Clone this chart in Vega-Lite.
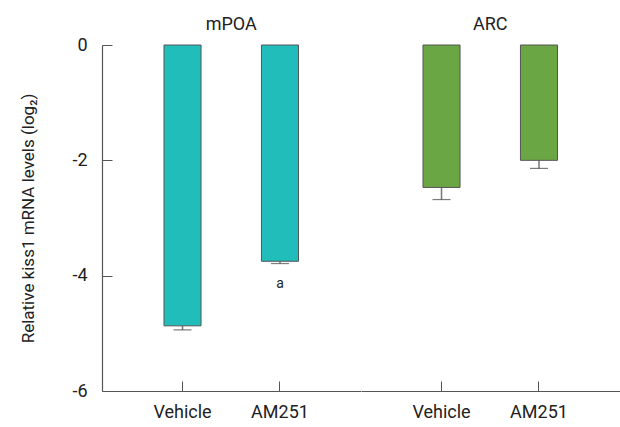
{
  "$schema": "https://vega.github.io/schema/vega-lite/v6.json",
  "data": {"values": [
    {"region": "mPOA", "treatment": "Vehicle", "mean": -4.87, "low": -4.94, "sig": ""},
    {"region": "mPOA", "treatment": "AM251", "mean": -3.75, "low": -3.79, "sig": "a"},
    {"region": "ARC", "treatment": "Vehicle", "mean": -2.47, "low": -2.68, "sig": ""},
    {"region": "ARC", "treatment": "AM251", "mean": -2.0, "low": -2.14, "sig": ""}
  ]},
  "padding": {"left": 19, "top": 16, "right": 0, "bottom": 0},
  "spacing": 0,
  "facet": {
    "column": {
      "field": "region", "type": "nominal", "sort": ["mPOA", "ARC"],
      "header": {"title": null, "labelFontSize": 18, "labelFont": "Roboto", "labelColor": "#222", "labelPadding": 10, "labelOrient": "top"}
    }
  },
  "spec": {
    "width": 258.5,
    "height": 346,
    "encoding": {
      "x": {"field": "treatment", "type": "nominal", "sort": ["Vehicle", "AM251"],
        "scale": {"type": "band", "paddingInner": 0.62, "paddingOuter": 0.636},
        "axis": {"title": null, "labelAngle": 0, "tickSize": -10, "labelPadding": 22, "domainColor": "#555", "tickColor": "#555", "labelFontSize": 18, "labelFont": "Roboto", "labelColor": "#222"}}
    },
    "layer": [
      {
        "mark": {"type": "rule", "color": "#777", "strokeWidth": 1.5},
        "encoding": {
          "y": {"field": "mean", "type": "quantitative"},
          "y2": {"field": "low"}
        }
      },
      {
        "mark": {"type": "tick", "color": "#444", "thickness": 1.2, "size": 18},
        "encoding": {
          "y": {"field": "low", "type": "quantitative"}
        }
      },
      {
        "mark": {"type": "bar", "stroke": "#555", "strokeWidth": 1},
        "encoding": {
          "y": {"field": "mean", "type": "quantitative",
            "scale": {"domain": [-6, 0], "nice": false},
            "axis": {"values": [0, -2, -4, -6], "tickSize": -10, "labelPadding": 25, "grid": false,
              "labelExpr": "datum.value == 0 ? '0' : '-' + abs(datum.value)",
              "title": "Relative kiss1 mRNA levels (log₂)", "titleFontSize": 17, "titleFont": "Roboto", "titleFontWeight": "normal", "titleColor": "#222", "titlePadding": 34,
              "labelFontSize": 18, "labelFont": "Roboto", "labelColor": "#222", "domainColor": "#555", "tickColor": "#555"}},
          "color": {"field": "region", "type": "nominal", "scale": {"domain": ["mPOA", "ARC"], "range": ["#21BDBA", "#6AA644"]}, "legend": null}
        }
      },
      {
        "mark": {"type": "text", "dy": 20, "fontSize": 14, "font": "Roboto", "color": "#222"},
        "encoding": {
          "y": {"field": "low", "type": "quantitative"},
          "text": {"field": "sig"}
        }
      },
      {
        "mark": {"type": "rule", "color": "#555", "strokeWidth": 1},
        "encoding": {"y": {"datum": 0, "type": "quantitative"}}
      }
    ]
  },
  "config": {"view": {"stroke": null}, "axis": {"domainWidth": 1.2}}
}
